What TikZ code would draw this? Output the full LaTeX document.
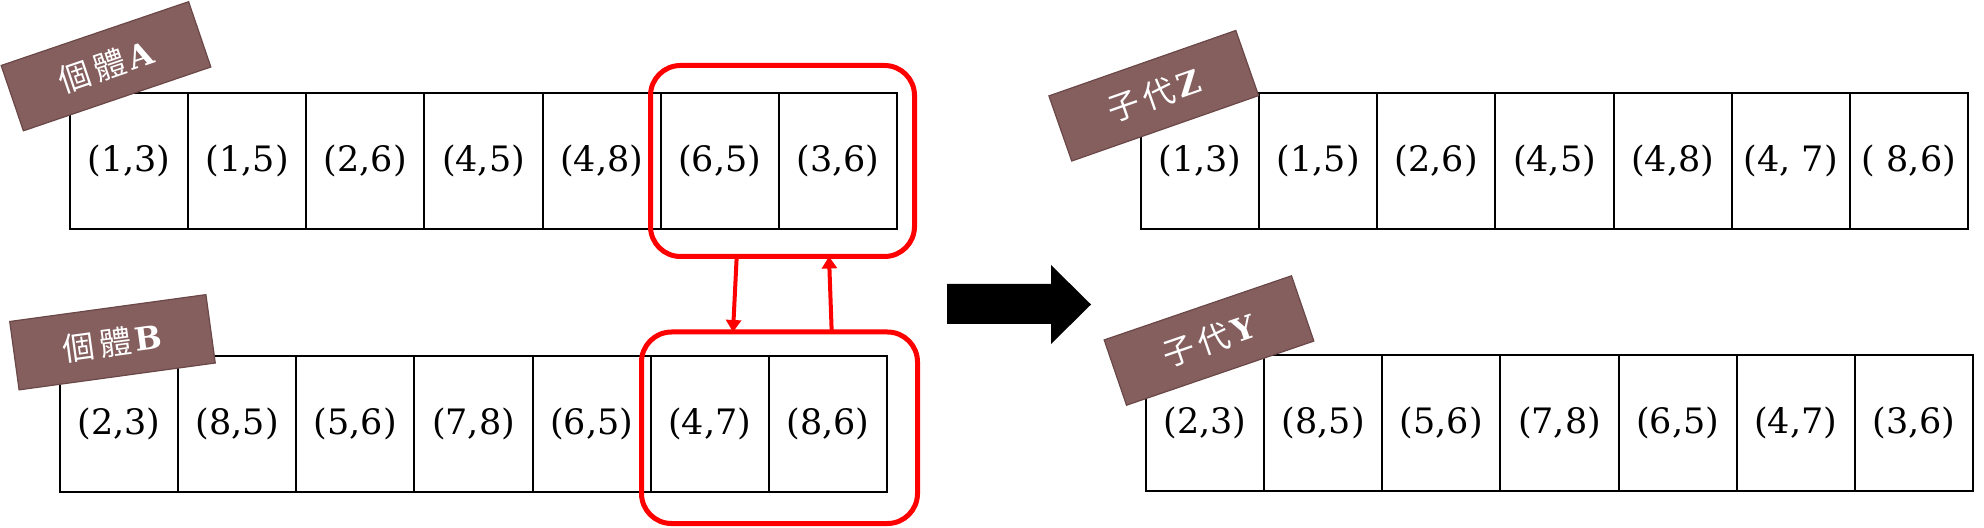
\documentclass[tikz,border=0pt]{standalone}
\usepackage{fontspec}
\setmainfont{DejaVu Serif}
\newfontfamily\cjk{Noto Sans CJK TC}
\usetikzlibrary{arrows.meta,calc}
\definecolor{labelbrown}{HTML}{855E5E}
\definecolor{labeledge}{HTML}{6B4848}
\begin{document}
\begin{tikzpicture}[x=0.5pt,y=-0.5pt,
  cell/.style={draw=black,line width=1pt,minimum width=59.07pt,minimum height=68pt,
    inner sep=0pt,outer sep=0pt,font=\fontsize{17.5}{20}\selectfont},
  tag/.style={fill=labelbrown,draw=labeledge,line width=0.6pt,minimum width=99pt,
    minimum height=34.5pt,inner sep=0pt,text=white,font=\fontsize{16}{18}\selectfont},
  redbox/.style={draw=red,line width=2.5pt,rounded corners=15pt,inner sep=0pt,outer sep=0pt},
  redarrow/.style={draw=red,line width=2pt,-{Triangle[length=6pt,width=7.5pt]}}]
\useasboundingbox (0,0) rectangle (1984,528);
% row A
\foreach \t [count=\i] in {{(1,3)},{(1,5)},{(2,6)},{(4,5)},{(4,8)},{(6,5)},{(3,6)}}
  \node[cell] (a\i) at ({70+118.14*(\i-0.5)},161) {\raisebox{-1.5pt}{\t}};
% row B
\foreach \t [count=\i] in {{(2,3)},{(8,5)},{(5,6)},{(7,8)},{(6,5)},{(4,7)},{(8,6)}}
  \node[cell] (b\i) at ({60+118.14*(\i-0.5)},424) {\raisebox{-1.5pt}{\t}};
% row Z
\foreach \t [count=\i] in {{(1,3)},{(1,5)},{(2,6)},{(4,5)},{(4,8)},{(4, 7)},{( 8,6)}}
  \node[cell] (z\i) at ({1141+118.14*(\i-0.5)},161) {\raisebox{-1.5pt}{\t}};
% row Y
\foreach \t [count=\i] in {{(2,3)},{(8,5)},{(5,6)},{(7,8)},{(6,5)},{(4,7)},{(3,6)}}
  \node[cell] (y\i) at ({1146+118.14*(\i-0.5)},423) {\raisebox{-1.5pt}{\t}};
% labels
\node[tag,rotate=18.8] (tA) at (106,66.25) {{\cjk 個\hspace{2.5pt}體}\hspace{2pt}\textbf{A}};
\node[tag,rotate=7.8] (tB) at (112.5,342.25) {{\cjk 個\hspace{2.5pt}體}\hspace{2pt}\textbf{B}};
\node[tag,rotate=19.3] (tZ) at (1153.75,95.75) {{\cjk 子\hspace{2.5pt}代}\hspace{2pt}\textbf{Z}};
\node[tag,rotate=18.9] (tY) at (1209,340.5) {{\cjk 子\hspace{2.5pt}代}\hspace{2pt}\textbf{Y}};
% red boxes
\node[redbox,minimum width=132pt,minimum height=95.5pt] (ra) at (782.5,161) {};
\node[redbox,minimum width=138pt,minimum height=95.75pt] (rb) at (779.5,427.75) {};
% red arrows
\draw[redarrow] ([xshift=43.1pt]ra.south west) -- ([xshift=45.75pt]rb.north west);
\draw[redarrow] ([xshift=95.1pt]rb.north west) -- ([xshift=89.25pt]ra.south west);
% black block arrow
\fill[black] (947,284) -- (1051,284) -- (1051,265) -- (1091,304.5) -- (1051,344)
  -- (1051,324) -- (947,324) -- cycle;
\end{tikzpicture}
\end{document}
